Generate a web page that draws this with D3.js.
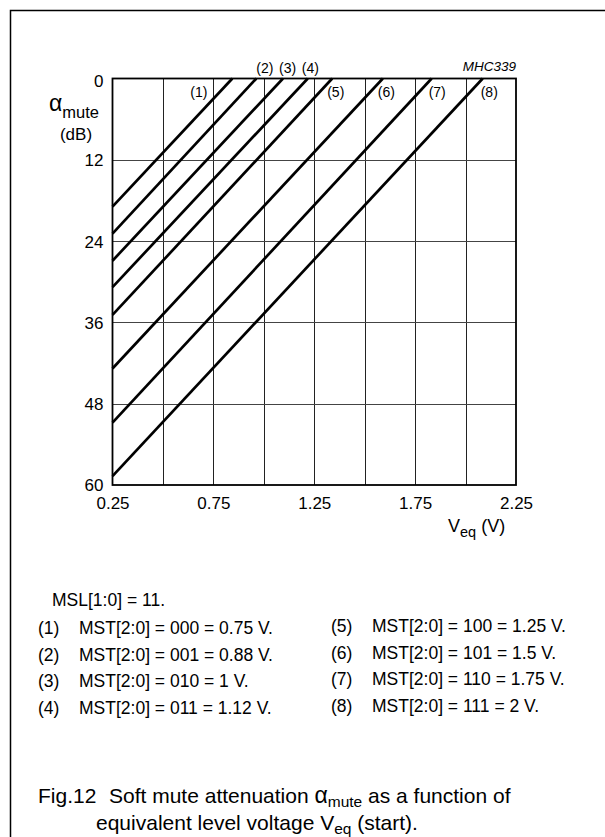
<!DOCTYPE html>
<html>
<head>
<meta charset="utf-8">
<script src="https://cdn.jsdelivr.net/npm/d3@7"></script>
<style>
  html, body { margin: 0; padding: 0; background: #fff; }
  svg text { font-family: "Liberation Sans", Arial, Helvetica, sans-serif; fill: #000; }
</style>
</head>
<body>
<svg id="chart" width="605" height="837"></svg>
<script>
// ---- data ----
const curveIds = ["(1)", "(2)", "(3)", "(4)", "(5)", "(6)", "(7)", "(8)"];
// attenuation (dB) where each curve meets V = 0.25 V
const startDb = [18.9, 22.9, 26.9, 30.8, 34.9, 42.8, 50.8, 58.7];
// voltage (V) where each curve reaches 0 dB
const endV = [0.844, 0.963, 1.095, 1.218, 1.339, 1.59, 1.832, 2.085];
const xTicks = [0.25, 0.75, 1.25, 1.75, 2.25];
const xGrid = [0.5, 0.75, 1.0, 1.25, 1.5, 1.75, 2.0];
const yTicks = [0, 12, 24, 36, 48, 60];
const noteHeader = "MSL[1:0] = 11.";
const legendLeft = [
  ["(1)", "MST[2:0] = 000 = 0.75 V."],
  ["(2)", "MST[2:0] = 001 = 0.88 V."],
  ["(3)", "MST[2:0] = 010 = 1 V."],
  ["(4)", "MST[2:0] = 011 = 1.12 V."]
];
const legendRight = [
  ["(5)", "MST[2:0] = 100 = 1.25 V."],
  ["(6)", "MST[2:0] = 101 = 1.5 V."],
  ["(7)", "MST[2:0] = 110 = 1.75 V."],
  ["(8)", "MST[2:0] = 111 = 2 V."]
];

// ---- layout ----
const svg = d3.select("#chart");
const plot = { left: 112.5, right: 516, top: 78.5, bottom: 485 };
const x = d3.scaleLinear().domain([0.25, 2.25]).range([plot.left, plot.right]);
const y = d3.scaleLinear().domain([0, 60]).range([plot.top, plot.bottom]);

// outer frame (left and top visible)
svg.append("path")
  .attr("d", "M10.5,837 V10.5 H605")
  .attr("fill", "none").attr("stroke", "#000").attr("stroke-width", 1.5);

// grid
const g = svg.append("g");
g.selectAll(".vg").data(xGrid).join("line")
  .attr("x1", d => Math.round(x(d)) + 0.5).attr("x2", d => Math.round(x(d)) + 0.5)
  .attr("y1", plot.top).attr("y2", plot.bottom)
  .attr("stroke", "#222").attr("stroke-width", 1);
g.selectAll(".hg").data(yTicks.slice(1, -1)).join("line")
  .attr("x1", plot.left).attr("x2", plot.right)
  .attr("y1", d => Math.round(y(d)) + 0.5).attr("y2", d => Math.round(y(d)) + 0.5)
  .attr("stroke", "#444").attr("stroke-width", 1);
g.append("rect")
  .attr("x", plot.left).attr("y", plot.top)
  .attr("width", plot.right - plot.left).attr("height", plot.bottom - plot.top)
  .attr("fill", "none").attr("stroke", "#000").attr("stroke-width", 1.8);

// axes (labels via d3 axis)
const yAxis = d3.axisLeft(y).tickValues(yTicks).tickSize(0).tickPadding(9).tickFormat(d3.format("d"));
const ya = svg.append("g").attr("transform", `translate(${plot.left},0)`).call(yAxis);
ya.select(".domain").remove();
ya.selectAll("text").attr("font-size", 17).attr("font-family", "Liberation Sans, Arial, sans-serif")
  .attr("dy", d => d === 0 ? "0.45em" : "0.35em");

const xAxis = d3.axisBottom(x).tickValues(xTicks).tickSize(0).tickPadding(12).tickFormat(d3.format(".2f"));
const xa = svg.append("g").attr("transform", `translate(0,${plot.bottom})`).call(xAxis);
xa.select(".domain").remove();
xa.selectAll("text").attr("font-size", 17).attr("font-family", "Liberation Sans, Arial, sans-serif");

// curves
const lineGen = d3.line().x(d => x(d[0])).y(d => y(d[1]));
svg.selectAll(".curve").data(curveIds.map((id, i) => [[0.25, startDb[i]], [endV[i], 0]]))
  .join("path")
  .attr("d", lineGen)
  .attr("fill", "none").attr("stroke", "#000").attr("stroke-width", 2.7);

// curve labels
const labelPos = [
  { dx: -42, y: 93 }, { dx: 0, y: 69 }, { dx: -4, y: 69 }, { dx: -6, y: 69 },
  { dx: -5, y: 93 }, { dx: -5, y: 93 }, { dx: -3, y: 93 }, { dx: -2, y: 93 }
];
svg.selectAll(".clab").data(curveIds).join("text")
  .attr("x", (d, i) => x(endV[i]) + labelPos[i].dx)
  .attr("y", (d, i) => labelPos[i].y)
  .attr("dominant-baseline", "middle")
  .attr("font-size", 14)
  .text(d => d);

// drawing code
svg.append("text").attr("x", plot.right).attr("y", 67)
  .attr("text-anchor", "end").attr("dominant-baseline", "middle")
  .attr("font-size", 13.5).attr("font-style", "italic").text("MHC339");

// y axis title
const yt = svg.append("text").attr("x", 49).attr("y", 111);
yt.append("tspan").attr("font-size", 23).text("α");
yt.append("tspan").attr("font-size", 16.5).attr("dy", 7).text("mute");
svg.append("text").attr("x", 76).attr("y", 140).attr("text-anchor", "middle")
  .attr("font-size", 17).text("(dB)");

// x axis title
const xt = svg.append("text").attr("x", 448).attr("y", 532);
xt.append("tspan").attr("font-size", 18).text("V");
xt.append("tspan").attr("font-size", 14.5).attr("dy", 5).text("eq");
xt.append("tspan").attr("font-size", 18).attr("dy", -5).text(" (V)");

// notes
const fsNote = 17.5;
svg.append("text").attr("x", 52).attr("y", 606).attr("font-size", fsNote).text(noteHeader);
const rowLeftY = [634, 661, 687, 714];
const rowRightY = [632, 659, 685, 712];
function legendCol(data, rows, xNum, xText) {
  data.forEach((d, i) => {
    svg.append("text").attr("x", xNum).attr("y", rows[i]).attr("font-size", fsNote).text(d[0]);
    svg.append("text").attr("x", xText).attr("y", rows[i]).attr("font-size", fsNote).text(d[1]);
  });
}
legendCol(legendLeft, rowLeftY, 38, 79);
legendCol(legendRight, rowRightY, 331, 372);

// caption
const fsCap = 21;
const c1 = svg.append("text").attr("x", 38).attr("y", 803).attr("font-size", fsCap);
c1.append("tspan").text("Fig.12");
c1.append("tspan").attr("x", 109).text("Soft mute attenuation ");
c1.append("tspan").attr("font-size", 23).text("α");
c1.append("tspan").attr("font-size", 15.5).attr("dy", 4).text("mute");
c1.append("tspan").attr("dy", -4).text(" as a function of");
const c2 = svg.append("text").attr("x", 96).attr("y", 830).attr("font-size", fsCap);
c2.append("tspan").text("equivalent level voltage V");
c2.append("tspan").attr("font-size", 15.5).attr("dy", 4).text("eq");
c2.append("tspan").attr("dy", -4).text(" (start).");
</script>
</body>
</html>
